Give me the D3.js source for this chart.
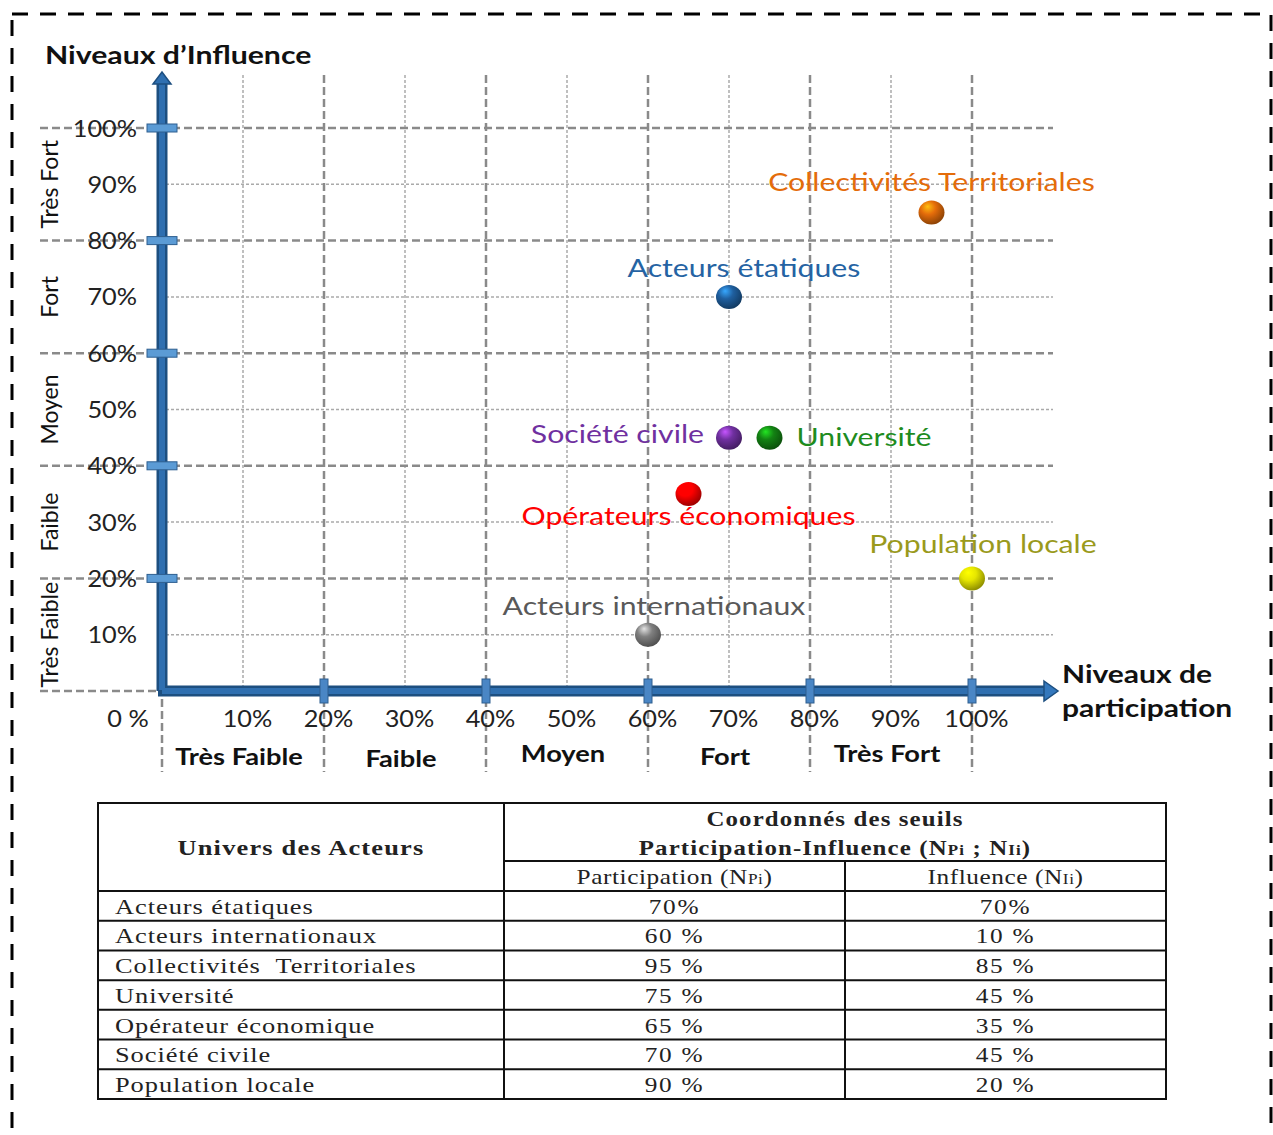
<!DOCTYPE html>
<html>
<head>
<meta charset="utf-8">
<script src="https://cdnjs.cloudflare.com/ajax/libs/d3/7.8.5/d3.min.js"></script>
<style>
  body { margin: 0; background: #fff; }
  svg { display: block; }
  .lbl { font-family: Lato, sans-serif; }
  .tbl { font-family: "Liberation Serif", serif; fill: #222; }
</style>
</head>
<body>
<div id="chart"></div>
<script>
// ---- data ----
const actors = ["Collectivités Territoriales", "Acteurs étatiques", "Société civile", "Université",
                "Opérateurs économiques", "Population locale", "Acteurs internationaux"];
const participation = [95, 70, 70, 75, 65, 100, 60];
const influence = [85, 70, 45, 45, 35, 20, 10];
const actorColors = ["#e46c0a", "#1f5f9f", "#7030a0", "#138213", "#ff0000", "#e6e600", "#808080"];
const labelColors = ["#e46c0a", "#2563a3", "#7030a0", "#1e8c1e", "#ff0000", "#9a9a1c", "#595959"];

const ticks = [10, 20, 30, 40, 50, 60, 70, 80, 90, 100];
const levels = ["Très Faible", "Faible", "Moyen", "Fort", "Très Fort"];

const tableActors = ["Acteurs étatiques", "Acteurs internationaux", "Collectivités  Territoriales", "Université",
                     "Opérateur économique", "Société civile", "Population locale"];
const tableNp = ["70%", "60 %", "95 %", "75 %", "65 %", "70 %", "90 %"];
const tableNi = ["70%", "10 %", "85 %", "45 %", "35 %", "45 %", "20 %"];

// the reference text is a bit wider than our fonts, so widen it horizontally
function stretch(sel, sx) {
  sel.each(function() {
    const t = d3.select(this);
    const x0 = +t.attr("x") || 0;
    t.attr("transform", `translate(${x0},0) scale(${sx},1) translate(${-x0},0)`);
  });
}

// ---- setup ----
const W = 1273, H = 1135;
const svg = d3.select("#chart").append("svg")
    .attr("width", W).attr("height", H);

svg.append("rect").attr("width", W).attr("height", H).attr("fill", "#fff");

// dashed frame around everything
svg.append("rect")
    .attr("x", 12).attr("y", 14).attr("width", 1259).attr("height", 1160)
    .attr("fill", "none").attr("stroke", "#000").attr("stroke-width", 3)
    .attr("stroke-dasharray", "16,12");

const x = d3.scaleLinear().domain([0, 100]).range([162, 972]);
const y = d3.scaleLinear().domain([0, 100]).range([691, 128]);

const majors = [0, 20, 40, 60, 80, 100];
const minors = [10, 30, 50, 70, 90];

const grid = svg.append("g");

// minor dotted grid
grid.selectAll(".minh").data(minors).enter().append("line")
    .attr("x1", x(0) + 4).attr("x2", 1053)
    .attr("y1", d => y(d)).attr("y2", d => y(d))
    .attr("stroke", "#aaa").attr("stroke-width", 1.5).attr("stroke-dasharray", "3,2");
grid.selectAll(".minv").data(minors).enter().append("line")
    .attr("x1", d => x(d)).attr("x2", d => x(d))
    .attr("y1", 75).attr("y2", y(0))
    .attr("stroke", "#aaa").attr("stroke-width", 1.5).attr("stroke-dasharray", "3,2");

// major dashed grid
grid.selectAll(".majh").data(majors).enter().append("line")
    .attr("x1", 40).attr("x2", 1053)
    .attr("y1", d => y(d)).attr("y2", d => y(d))
    .attr("stroke", "#8a8a8a").attr("stroke-width", 2.5).attr("stroke-dasharray", "8,4");
grid.selectAll(".majv").data(majors).enter().append("line")
    .attr("x1", d => x(d)).attr("x2", d => x(d))
    .attr("y1", 75).attr("y2", 772)
    .attr("stroke", "#8a8a8a").attr("stroke-width", 2.5).attr("stroke-dasharray", "8,4");

// y tick labels through d3 axis
const yAxis = svg.append("g")
    .attr("transform", `translate(${x(0)},0)`)
    .call(d3.axisLeft(y).tickValues(ticks).tickSize(0).tickPadding(25).tickFormat(d => d + "%"));
yAxis.select(".domain").remove();
yAxis.selectAll("text")
    .attr("class", "lbl").attr("font-size", 23).attr("fill", "#222").attr("dy", "0.35em")
    .call(stretch, 1.1);

// x tick labels
const xAxis = svg.append("g")
    .attr("transform", `translate(4,${y(0)})`)
    .call(d3.axisBottom(x).tickValues(ticks).tickSize(0).tickPadding(20).tickFormat(d => d + "%"));
xAxis.select(".domain").remove();
xAxis.selectAll("text")
    .attr("class", "lbl").attr("font-size", 23).attr("fill", "#222")
    .call(stretch, 1.1);
svg.append("text").attr("class", "lbl")
    .attr("x", 128).attr("y", 727).attr("text-anchor", "middle")
    .attr("font-size", 23).attr("fill", "#222").text("0 %")
    .call(stretch, 1.1);

// level names
svg.selectAll(".xlev").data(levels).enter().append("text")
    .attr("class", "lbl")
    .attr("x", (d, i) => x(i * 20 + 10) - 4)
    .attr("y", (d, i) => [765, 767, 762, 765, 762][i])
    .attr("text-anchor", "middle")
    .attr("font-size", 22).attr("font-weight", 700).attr("fill", "#111")
    .text(d => d)
    .call(stretch, 1.24);

svg.selectAll(".ylev").data(levels).enter().append("text")
    .attr("class", "lbl")
    .attr("transform", (d, i) => `translate(58,${y(i * 20 + 10)}) rotate(-90)`)
    .attr("text-anchor", "middle")
    .attr("font-size", 23).attr("fill", "#111")
    .text(d => d);

// axis titles
svg.append("text").attr("class", "lbl")
    .attr("x", 45).attr("y", 64)
    .attr("font-size", 24).attr("font-weight", 700).attr("fill", "#111")
    .text("Niveaux d’Influence")
    .call(stretch, 1.26);
const xt = svg.append("text").attr("class", "lbl").attr("x", 1062)
    .attr("font-size", 24).attr("font-weight", 700).attr("fill", "#111");
xt.append("tspan").attr("x", 1062).attr("y", 683).text("Niveaux de");
xt.append("tspan").attr("x", 1062).attr("y", 717).text("participation");
xt.call(stretch, 1.25);

// ---- thick blue axes ----
const axisG = svg.append("g");
const ax0 = x(0), ay0 = y(0);
axisG.append("path")
    .attr("d", `M${ax0},${ay0} L${ax0},84 M${ax0 - 4},${ay0} L1046,${ay0}`)
    .attr("stroke", "#1d4f80").attr("stroke-width", 11).attr("fill", "none");
axisG.append("path")
    .attr("d", `M${ax0},${ay0 - 1} L${ax0},84 M${ax0},${ay0} L1046,${ay0}`)
    .attr("stroke", "#2f6fb0").attr("stroke-width", 6).attr("fill", "none");
axisG.append("path")
    .attr("d", `M${ax0 - 9},84 L${ax0},72 L${ax0 + 9},84 Z`)
    .attr("fill", "#2f6fb0").attr("stroke", "#1d4f80").attr("stroke-width", 1.5);
axisG.append("path")
    .attr("d", `M1044,${ay0 - 10} L1058,${ay0} L1044,${ay0 + 10} Z`)
    .attr("fill", "#3478bd").attr("stroke", "#1d4f80").attr("stroke-width", 1.5);

// tick blocks
axisG.selectAll(".ytk").data(majors.slice(1)).enter().append("rect")
    .attr("x", ax0 - 15).attr("y", d => y(d) - 4).attr("width", 30).attr("height", 8)
    .attr("fill", "#5b9bd5").attr("stroke", "#2e5f8f").attr("stroke-width", 1);
axisG.selectAll(".xtk").data(majors.slice(1)).enter().append("rect")
    .attr("x", d => x(d) - 4).attr("y", ay0 - 12).attr("width", 8).attr("height", 24)
    .attr("fill", "#4a86c5").attr("stroke", "#2e5f8f").attr("stroke-width", 1);

// ---- points ----
const defs = svg.append("defs");
actorColors.forEach((c, i) => {
  const g = defs.append("radialGradient").attr("id", "ball" + i)
      .attr("cx", "40%").attr("cy", "35%").attr("r", "65%").attr("fx", "35%").attr("fy", "25%");
  g.append("stop").attr("offset", "0%").attr("stop-color", d3.color(c).brighter(1.6));
  g.append("stop").attr("offset", "45%").attr("stop-color", c);
  g.append("stop").attr("offset", "100%").attr("stop-color", d3.color(c).darker(1.3));
});

const pts = actors.map((a, i) => ({ name: a, p: participation[i], inf: influence[i], i }));

svg.selectAll(".ball").data(pts).enter().append("ellipse")
    .attr("cx", d => x(d.p)).attr("cy", d => y(d.inf))
    .attr("rx", 13).attr("ry", 12)
    .attr("fill", d => `url(#ball${d.i})`);

// label placement relative to each ball
const labelPlace = {
  "Collectivités Territoriales": { dx: 0, dy: -21, anchor: "middle" },
  "Acteurs étatiques": { dx: 15, dy: -20, anchor: "middle" },
  "Société civile": { dx: -25, dy: 5, anchor: "end" },
  "Université": { dx: 27, dy: 8, anchor: "start" },
  "Opérateurs économiques": { dx: 0, dy: 31, anchor: "middle" },
  "Population locale": { dx: 11, dy: -25, anchor: "middle" },
  "Acteurs internationaux": { dx: 6, dy: -20, anchor: "middle" }
};

svg.selectAll(".plab").data(pts).enter().append("text")
    .attr("class", "lbl")
    .attr("x", d => x(d.p) + labelPlace[d.name].dx)
    .attr("y", d => y(d.inf) + labelPlace[d.name].dy)
    .attr("text-anchor", d => labelPlace[d.name].anchor)
    .attr("font-size", 25)
    .attr("fill", d => labelColors[d.i])
    .text(d => d.name)
    .call(stretch, 1.21);

// ---- table ----
const tb = svg.append("g");
const tx0 = 98, tx1 = 504, tx2 = 845, tx3 = 1166;
const ty0 = 803, ty1 = 861, ty2 = 891, ty3 = 1099;
const rowH = (ty3 - ty2) / tableActors.length;

const lineStyle = s => s.attr("stroke", "#111").attr("stroke-width", 2);
tb.append("rect").attr("x", tx0).attr("y", ty0).attr("width", tx3 - tx0).attr("height", ty3 - ty0)
    .attr("fill", "none").call(lineStyle);
tb.append("line").attr("x1", tx1).attr("x2", tx1).attr("y1", ty0).attr("y2", ty3).call(lineStyle);
tb.append("line").attr("x1", tx2).attr("x2", tx2).attr("y1", ty1).attr("y2", ty3).call(lineStyle);
tb.append("line").attr("x1", tx1).attr("x2", tx3).attr("y1", ty1).attr("y2", ty1).call(lineStyle);
tb.selectAll(".rl").data(d3.range(tableActors.length)).enter().append("line")
    .attr("x1", tx0).attr("x2", tx3)
    .attr("y1", d => ty2 + d * rowH).attr("y2", d => ty2 + d * rowH).call(lineStyle);

tb.append("text").attr("class", "tbl")
    .attr("x", (tx0 + tx1) / 2).attr("y", 855).attr("text-anchor", "middle")
    .attr("font-size", 22).attr("font-weight", 700).attr("letter-spacing", 1)
    .text("Univers des Acteurs")
    .call(stretch, 1.2);

const h1 = tb.append("text").attr("class", "tbl").attr("x", (tx1 + tx3) / 2)
    .attr("text-anchor", "middle").attr("font-size", 22).attr("font-weight", 700).attr("letter-spacing", 1);
h1.append("tspan").attr("x", (tx1 + tx3) / 2).attr("y", 826).text("Coordonnés des seuils");
const h1b = h1.append("tspan").attr("x", (tx1 + tx3) / 2).attr("y", 855);
h1b.append("tspan").text("Participation-Influence (N");
h1b.append("tspan").attr("font-size", 15).text("Pi");
h1b.append("tspan").text(" ; N");
h1b.append("tspan").attr("font-size", 15).text("Ii");
h1b.append("tspan").text(")");
h1.call(stretch, 1.13);

const sub1 = tb.append("text").attr("class", "tbl").attr("x", (tx1 + tx2) / 2).attr("y", 884)
    .attr("text-anchor", "middle").attr("font-size", 22).attr("letter-spacing", 0.5);
sub1.append("tspan").text("Participation (N");
sub1.append("tspan").attr("font-size", 15).text("Pi");
sub1.append("tspan").text(")");
sub1.call(stretch, 1.15);
const sub2 = tb.append("text").attr("class", "tbl").attr("x", (tx2 + tx3) / 2).attr("y", 884)
    .attr("text-anchor", "middle").attr("font-size", 22).attr("letter-spacing", 0.5);
sub2.append("tspan").text("Influence (N");
sub2.append("tspan").attr("font-size", 15).text("Ii");
sub2.append("tspan").text(")");
sub2.call(stretch, 1.15);

const rows = tb.selectAll(".row").data(tableActors).enter().append("g")
    .attr("transform", (d, i) => `translate(0,${ty2 + i * rowH + rowH - 7})`);
rows.append("text").attr("class", "tbl").attr("x", 115)
    .attr("font-size", 22).attr("letter-spacing", 0.8).attr("xml:space", "preserve")
    .text(d => d)
    .call(stretch, 1.2);
rows.append("text").attr("class", "tbl").attr("x", (tx1 + tx2) / 2)
    .attr("text-anchor", "middle").attr("font-size", 22).attr("letter-spacing", 1.5)
    .text((d, i) => tableNp[i])
    .call(stretch, 1.15);
rows.append("text").attr("class", "tbl").attr("x", (tx2 + tx3) / 2)
    .attr("text-anchor", "middle").attr("font-size", 22).attr("letter-spacing", 1.5)
    .text((d, i) => tableNi[i])
    .call(stretch, 1.15);
</script>
</body>
</html>
